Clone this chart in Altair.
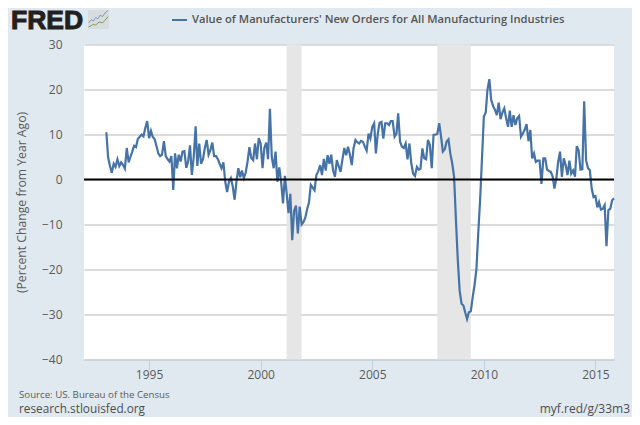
import altair as alt
import pandas as pd

v1993 = [10.5, 5, 3, 1.5, 3.5, 2.8, 4.5, 3, 3.8, 3.2, 2.4]
v1994 = [7, 3.8, 5, 6.2, 7.5, 7.2, 9, 9.5, 10, 9.6, 11.5, 13]
v1995 = [9.2, 10.8, 9.5, 9, 7.5, 5.8, 5.2, 5.5, 8.5, 5.2, 4.5, 4]
v1996 = [5.2, -2.3, 5.8, 2.5, 5.5, 4, 6.2, 6.3, 2.6, 4, 7.6, 1]
v1997 = [5, 11.8, 3, 8, 3.5, 4.5, 7, 8.8, 5.5, 6.5, 8.2, 5.2]
v1998 = [5.2, 4.5, 3.5, 2.5, 3.8, -0.5, -2.8, -0.5, 0.3, -1.5, -4.5, -0.5]
v1999 = [2.5, 0.5, 2, 0.3, 1.5, 4, 7.2, 4.8, 4.3, 8, 4.5, 9.2]
v2000 = [8, 2.5, 7, 8.2, 4.5, 15.7, 5, 2.5, 6.2, -0.5, 2.7, -0.5]
v2001 = [-5.3, 0.8, -3, -7.5, -3.2, -13.5, -7, -5.8, -12, -6, -10, -9.5]
v2002 = [-8.5, -6.5, -5.2, -1.2, -1.8, -2.4, 1, 1.8, 3.2, 1, 4.6, 2]
v2003 = [5.4, 3.5, 5.5, 2, 0.6, 4.3, 3, 1.7, 4.5, 7, 5.4, 7.3]
v2004 = [5.5, 3.2, 7, 8.8, 8.3, 8, 8.6, 8.4, 7.3, 6.4, 10.2, 9.1]
v2005 = [11.7, 12.5, 5.8, 10.2, 12.6, 12.8, 9.1, 12.5, 12.5, 12.1, 13, 13]
v2006 = [9.5, 10.2, 14.7, 8.4, 7.3, 7, 8, 4.5, 8, 3.6, 1.3, 0.8]
v2007 = [2.8, 2.2, 2.4, 6.9, 4.7, 4.5, 8.8, 7.7, 2.5, 9.9, 10, 10.1]
v2008 = [12.5, 9.5, 6.2, 6.7, 8.4, 8.9, 5.8, 3.6, 0.6, -9, -18, -24.7]
v2009 = [-27.6, -28, -29.5, -31, -29.5, -29.3, -26.3, -23.5, -20, -12, -4.5, 4.5]
v2010 = [14, 14.9, 19.9, 22.3, 17.7, 16.3, 15.5, 14.3, 17.1, 13.4, 14.9, 15.8]
v2011 = [13.6, 11.7, 15.3, 11.7, 14.3, 12.1, 13.6, 14.1, 9.5, 10.2, 11.1, 12.3]
v2012 = [8.5, 11, 4.7, 5.8, 3.9, 4.2, 4.2, -1, 4.7, 4.7, 2.2, 1.9]
v2013 = [1.7, 0.6, -2, 0.2, 3.9, 6.2, 0.6, 4.7, 3.2, 1, 4.2, 1.3]
v2014 = [2, 0.6, 7.4, 6.5, 2.2, 2.3, 17.4, 4.3, 2.5, 2.1, -2, -3.9]
v2015 = [-3.7, -6.2, -5, -6.7, -6.5, -5.7, -14.8, -6.8, -6.5, -4.6, -4.2]

values = (v1993 + v1994 + v1995 + v1996 + v1997 + v1998 + v1999 + v2000 + v2001 + v2002
          + v2003 + v2004 + v2005 + v2006 + v2007 + v2008 + v2009 + v2010 + v2011 + v2012
          + v2013 + v2014 + v2015)
dates = pd.date_range("1993-02-01", periods=len(values), freq="MS").strftime("%Y-%m-%dT00:00:00").tolist()

rec_start = ["2001-03-01T00:00:00", "2007-12-01T00:00:00"]
rec_end = ["2001-11-01T00:00:00", "2009-06-01T00:00:00"]
tick_years = [1995, 2000, 2005, 2010, 2015]
y_ticks = [30, 20, 10, 0, -10, -20, -30, -40]

TITLE = "Value of Manufacturers' New Orders for All Manufacturing Industries"
FONT = "Open Sans"
BG = "#e1e9f0"
TXT = "#5a5a5a"

W, H = 530, 315
PL, PT = 76, 36.5

df = pd.DataFrame({"date": dates, "value": values})
rec = pd.DataFrame({"s": rec_start, "e": rec_end})

xs = alt.Scale(domain=[alt.DateTime(year=1992, month=2, date=1), alt.DateTime(year=2015, month=11, date=1)])
ys = alt.Scale(domain=[-40, 30], nice=False, zero=False)

axes = alt.Chart(df).mark_line(opacity=0).encode(
    x=alt.X("date:T", scale=xs, title=None, axis=alt.Axis(
        values=[alt.DateTime(year=y, month=1, date=1) for y in tick_years], format="%Y", grid=False,
        domainColor="#c0d0e0", tickColor="#c0d0e0", tickSize=10, labelPadding=0,
        labelColor=TXT, labelFont=FONT, labelFontSize=12, labelFlush=False, labelOverlap=False)),
    y=alt.Y("value:Q", scale=ys, title="(Percent Change from Year Ago)", axis=alt.Axis(
        values=y_ticks, domain=False, ticks=False, grid=True, gridColor="#cfcfcf", gridWidth=1.5,
        labelPadding=22, labelColor=TXT, labelFont=FONT, labelFontSize=12,
        titleFont=FONT, titleFontSize=12.2, titleFontWeight="normal", titleColor=TXT, titlePadding=13)),
)

bands = alt.Chart(rec).mark_rect(color="#e6e6e6").encode(
    x=alt.X("s:T", scale=xs), x2="e:T")

line = alt.Chart(df).mark_line(color="#4572a7", strokeWidth=2.2).encode(
    x=alt.X("date:T", scale=xs), y=alt.Y("value:Q", scale=ys))

zero = alt.Chart(pd.DataFrame({"z": [0]})).mark_rule(color="black", strokeWidth=2).encode(
    y=alt.Y("z:Q", scale=ys))


def label(text, x, y, **kw):
    return alt.Chart(pd.DataFrame({"t": [text]})).mark_text(**kw).encode(
        text="t:N", x=alt.value(x - 84), y=alt.value(y - 44.5))


legend_key = alt.Chart(pd.DataFrame({"a": [0]})).mark_rule(color="#4572a7", strokeWidth=2).encode(
    x=alt.value(172 - 84), x2=alt.value(187 - 84), y=alt.value(20 - 44.5))

title = label(TITLE, 192, 20, align="left", baseline="middle", font=FONT, fontSize=11.2, fontWeight=600, color="#555555")
logo = label("FRED", 11, 28.5, align="left", baseline="alphabetic", font="Liberation Sans", fontSize=26.5,
             fontWeight="bold", color="#231f20", stroke="#231f20", strokeWidth=1)
src = label("Source: US. Bureau of the Census", 19, 395, align="left", baseline="middle", font=FONT, fontSize=9.7, color="#5a5a5a")
site = label("research.stlouisfed.org", 19, 409, align="left", baseline="middle", font=FONT, fontSize=11.8, color="#4d4d4d")
short = label("myf.red/g/33m3", 630, 409, align="right", baseline="middle", font=FONT, fontSize=12, color="#4d4d4d")

icon_bg = alt.Chart(pd.DataFrame({"a": [0]})).mark_rect(color="#d9dcdf").encode(
    x=alt.value(88 - 84), x2=alt.value(109 - 84), y=alt.value(10 - 44.5), y2=alt.value(29 - 44.5))

# little logo sparkline, in the chart's own units
icon_x = ["1992-04-15", "1992-06-01", "1992-07-01", "1992-08-10", "1992-09-15", "1992-10-20", "1992-12-01", "1993-01-10", "1993-03-01"]
icon_blue_y = [34.8, 35.5, 35.2, 36, 35.7, 36.5, 36.2, 37, 37.6]
icon_green_y = [33.9, 34.2, 34.5, 34.3, 34.8, 35, 34.8, 35.4, 36.2]
icon = pd.DataFrame({"x": icon_x, "b": icon_blue_y, "g": icon_green_y})
icon_b = alt.Chart(icon).mark_line(color="#7f9cb8", strokeWidth=1).encode(x=alt.X("x:T", scale=xs), y=alt.Y("b:Q", scale=ys))
icon_g = alt.Chart(icon).mark_line(color="#7fa04a", strokeWidth=1).encode(x=alt.X("x:T", scale=xs), y=alt.Y("g:Q", scale=ys))

chart = alt.layer(axes, bands, line, zero, legend_key, title, icon_bg, icon_b, icon_g, logo, src, site, short).properties(
    width=W, height=H, background=BG,
    padding={"left": PL, "top": PT, "right": 18, "bottom": 57},
    autosize=alt.AutoSizeParams(type="none"),
).configure_view(stroke=None, fill="white").configure_axis(labelFontWeight="normal")

chart.save("out.html", embed_options={"renderer": "svg", "actions": False})
